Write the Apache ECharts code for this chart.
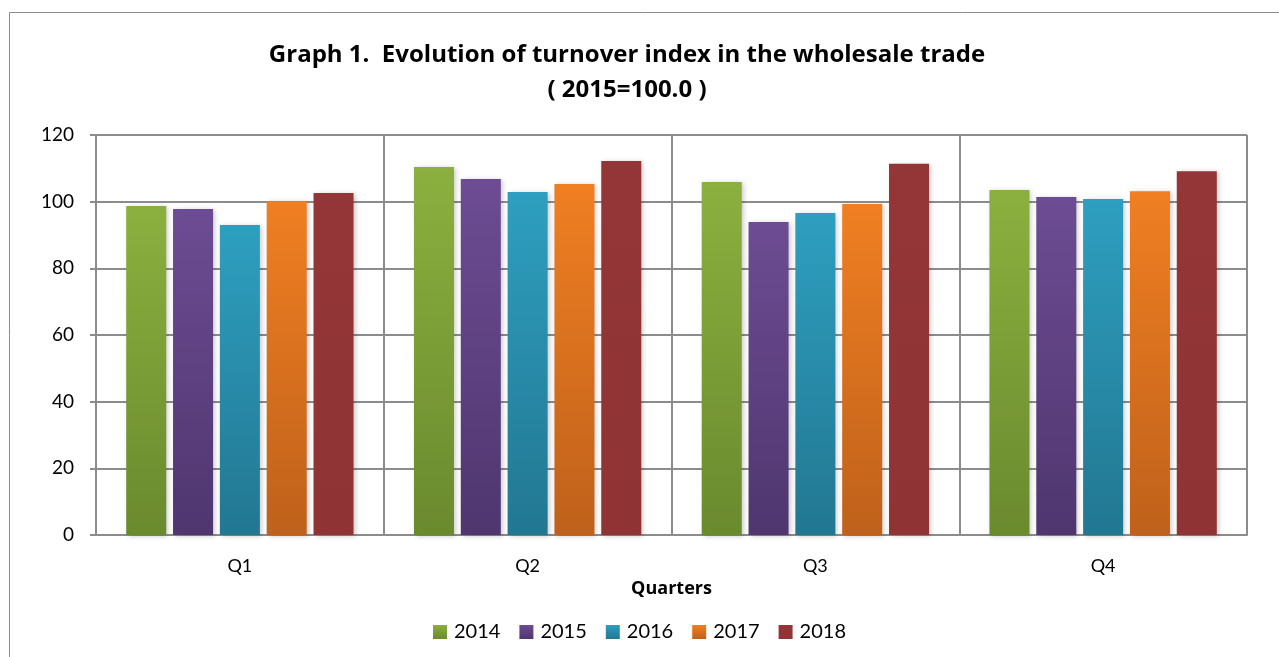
<!DOCTYPE html>
<html>
<head>
<meta charset="utf-8">
<script src="https://cdn.jsdelivr.net/npm/echarts@6/dist/echarts.min.js"></script>
<style>
  html, body { margin: 0; padding: 0; background: #fff; }
  #chart { width: 1279px; height: 657px; }
</style>
</head>
<body>
<div id="chart"></div>
<script>
const quarters = ['Q1', 'Q2', 'Q3', 'Q4']
const years = ['2014', '2015', '2016', '2017', '2018']
const values2014 = [98.7, 110.4, 105.9, 103.5]
const values2015 = [97.8, 106.8, 93.9, 101.4]
const values2016 = [93.0, 102.9, 96.6, 100.8]
const values2017 = [100.1, 105.3, 99.3, 103.1]
const values2018 = [102.6, 112.2, 111.4, 109.1]
const yTicks = [0, 20, 40, 60, 80, 100, 120]

const seriesValues = [values2014, values2015, values2016, values2017, values2018]
// top / bottom colours of each bar gradient
const palette = [
  ['#8cb03f', '#6a8a2e'],
  ['#6d4c93', '#4f366f'],
  ['#2e9fc0', '#227791'],
  ['#f07f22', '#bf611b'],
  ['#943637', '#8f3334']
]

const FONT = 'Lato, "Liberation Sans", sans-serif'
const BOLD_FONT = '"Open Sans", Lato, sans-serif'

const chart = echarts.init(document.getElementById('chart'))

const series = years.map((year, i) => ({
  name: year,
  type: 'bar',
  data: seriesValues[i],
  barGap: '17%',
  barCategoryGap: '21%',
  itemStyle: {
    color: new echarts.graphic.LinearGradient(0, 0, 0, 1, [
      { offset: 0, color: palette[i][0] },
      { offset: 1, color: palette[i][1] }
    ]),
    shadowColor: 'rgba(0,0,0,0.22)',
    shadowBlur: 5,
    shadowOffsetX: 2,
    shadowOffsetY: 1
  }
}))

chart.setOption({
  animation: false,
  color: palette.map(p => p[0]),
  graphic: [{
    type: 'rect',
    silent: true,
    shape: { x: 9.5, y: 12.5, width: 1300, height: 700 },
    style: { fill: 'none', stroke: '#8c8c8c', lineWidth: 1 }
  }],
  title: {
    text: 'Graph 1.  Evolution of turnover index in the wholesale trade\n( 2015=100.0 )',
    left: 622,
    textAlign: 'center',
    top: 33,
    textStyle: {
      fontFamily: BOLD_FONT,
      fontSize: 24,
      fontWeight: 'bold',
      color: '#000',
      lineHeight: 35
    }
  },
  legend: {
    data: years,
    bottom: 10,
    left: 'center',
    itemWidth: 14,
    itemHeight: 14,
    itemGap: 19,
    icon: 'rect',
    textStyle: { fontFamily: FONT, fontSize: 20, color: '#000', padding: [0, 0, 0, 2] }
  },
  grid: {
    left: 96,
    right: 32,
    top: 135,
    bottom: 122,
    containLabel: false
  },
  xAxis: {
    type: 'category',
    data: quarters,
    name: 'Quarters',
    nameLocation: 'middle',
    nameGap: 40,
    nameTextStyle: { fontFamily: BOLD_FONT, fontSize: 18, fontWeight: 'bold', color: '#000' },
    axisLine: { lineStyle: { color: '#8c8c8c', width: 2 } },
    axisTick: { show: false },
    axisLabel: { fontFamily: FONT, fontSize: 18, color: '#000', margin: 22 },
    splitLine: { show: true, lineStyle: { color: '#8c8c8c', width: 2 } }
  },
  yAxis: {
    type: 'value',
    min: yTicks[0],
    max: yTicks[yTicks.length - 1],
    interval: yTicks[1] - yTicks[0],
    axisLine: { show: true, lineStyle: { color: '#8c8c8c', width: 2 } },
    axisTick: { show: true, length: 6, lineStyle: { color: '#8c8c8c', width: 2 } },
    axisLabel: { fontFamily: FONT, fontSize: 19, color: '#000', margin: 22 },
    splitLine: { show: true, lineStyle: { color: '#8c8c8c', width: 2 } }
  },
  series
})
</script>
</body>
</html>
